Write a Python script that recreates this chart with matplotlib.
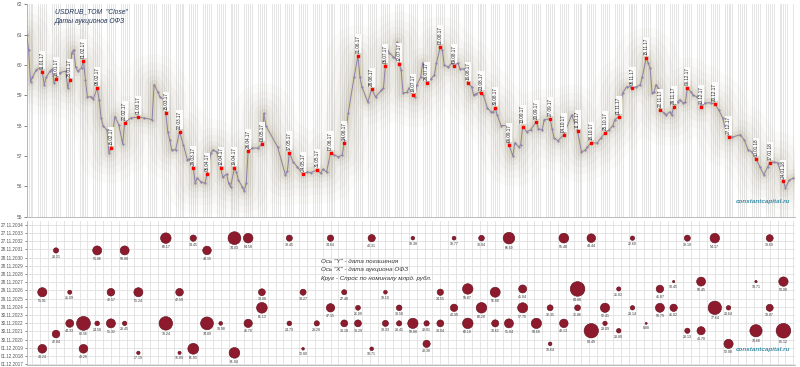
import pandas as pd
import matplotlib
matplotlib.use('Agg')
import matplotlib.pyplot as plt
from matplotlib.ticker import MultipleLocator, FixedLocator

base = pd.Timestamp('2017-01-01')

# USDRUB_TOM close (day offset from 01.01.2017, rub)
line_days = [2, 3, 4, 5, 7, 9, 10, 11, 12, 14, 15, 16, 17, 19, 22, 23, 24, 25, 26, 27, 28, 30,
             31, 32, 33, 35, 36, 38, 39, 40, 41, 43, 44, 45, 47, 49, 51, 52, 55, 59, 62, 66,
             67, 69, 70, 72, 73, 74, 75, 76, 78, 80, 82, 84, 85, 87, 88, 89, 91, 93, 94, 96,
             97, 99, 101, 102, 104, 105, 106, 108, 109, 110, 112, 113, 114, 115, 117, 120, 122,
             123, 124, 130, 134, 135, 136, 138, 140, 143, 145, 147, 150, 152, 153, 155, 157,
             159, 161, 163, 164, 166, 169, 171, 172, 173, 176, 178, 180, 183, 184, 185, 186,
             187, 189, 190, 191, 192, 193, 194, 196, 197, 199, 200, 201, 203, 204, 206, 208,
             210, 211, 213, 214, 215, 217, 219, 220, 222, 223, 225, 226, 227, 229, 230, 231,
             233, 234, 235, 237, 239, 240, 241, 242, 244, 247, 248, 250, 251, 253, 254, 255,
             257, 259, 262, 263, 265, 266, 269, 270, 271, 273, 276, 280, 283, 285, 287, 288,
             290, 293, 295, 297, 299, 301, 302, 304, 306, 308, 310, 311, 313, 315, 316, 318,
             319, 320, 321, 322, 323, 324, 325, 327, 328, 330, 331, 332, 334, 335, 337, 338,
             339, 341, 342, 344, 345, 346, 348, 351, 353, 355, 357, 358, 360, 362, 366, 368,
             370, 372, 374, 376, 378, 380, 381, 383, 385, 386, 388, 389, 391, 393]
line_vals = [61.0, 60.5, 59.45, 59.6, 59.85, 59.9, 59.77, 59.35, 59.6, 59.8, 59.87, 59.4, 59.55,
             59.75, 59.8, 59.24, 59.5, 60.4, 60.5, 59.94, 59.8, 59.9, 60.14, 59.5, 58.95, 58.95,
             58.88, 59.24, 58.85, 58.25, 58.0, 57.85, 57.1, 57.26, 58.3, 58.03, 57.4, 58.09,
             58.25, 58.28, 58.25, 58.2, 59.35, 59.1, 58.95, 58.85, 58.4, 57.8, 57.53, 57.2,
             57.2, 57.8, 57.36, 56.87, 56.9, 56.6, 56.1, 56.27, 56.14, 56.1, 56.4, 57.1, 57.2,
             57.13, 56.6, 56.3, 56.4, 56.1, 55.98, 56.6, 56.47, 56.2, 55.98, 55.85, 56.1, 57.16,
             57.26, 57.26, 57.4, 58.4, 58.0, 57.3, 56.37, 56.5, 57.1, 56.8, 56.64, 56.4, 56.47,
             56.45, 56.53, 56.43, 56.56, 56.47, 57.1, 57.03, 56.97, 57.03, 57.43, 58.4, 59.6,
             60.3, 59.6, 59.28, 58.78, 59.2, 58.95, 59.17, 59.25, 59.97, 60.5, 60.4, 60.27,
             60.23, 60.76, 60.03, 59.84, 59.08, 59.1, 59.24, 59.0, 58.95, 59.35, 59.6, 60.07,
             59.4, 59.53, 59.67, 60.07, 60.6, 60.5, 60.0, 59.93, 60.07, 59.97, 60.07, 59.87,
             59.87, 59.87, 59.4, 59.28, 59.0, 59.05, 59.1, 59.08, 59.0, 58.58, 58.45, 58.45,
             58.58, 58.35, 58.0, 58.0, 57.37, 57.0, 57.43, 57.3, 57.37, 57.97, 57.8, 57.86,
             58.13, 57.9, 57.86, 58.2, 58.22, 57.9, 57.6, 57.5, 57.7, 58.35, 57.82, 57.13, 57.2,
             57.3, 57.43, 57.43, 57.6, 57.76, 57.86, 58.0, 58.2, 58.29, 59.08, 59.28, 59.28,
             59.24, 59.28, 59.35, 59.6, 60.23, 60.07, 59.9, 59.08, 59.1, 59.35, 59.24, 58.5,
             58.43, 58.35, 58.45, 58.35, 58.62, 58.78, 58.85, 58.75, 58.78, 59.24, 59.1, 59.0,
             58.95, 59.05, 58.62, 58.75, 58.75, 58.72, 58.52, 58.25, 58.0, 57.62, 57.62, 57.7,
             57.53, 57.2, 57.13, 56.9, 56.64, 56.38, 56.64, 56.77, 56.8, 56.77, 56.6, 56.17,
             55.95, 56.2, 56.27]

# OFZ auction dates (day offset from 01.01.2017)
auction_days = [10, 17, 24, 31, 38, 45, 52, 59, 73, 80, 87, 94, 101, 108, 115, 122, 136, 143,
                150, 157, 164, 171, 178, 185, 192, 199, 206, 213, 220, 227, 234, 241, 248, 255,
                262, 269, 276, 283, 290, 297, 304, 311, 318, 325, 332, 339, 346, 353, 360, 374,
                381, 388]

# bubbles: auction day, maturity (year), demand bln rub
bub_day = [10, 10, 17, 17, 24, 24, 31, 31, 38, 38, 45, 45, 52, 52, 59, 59, 73, 73, 80, 80,
           87, 87, 94, 94, 101, 108, 108, 115, 115, 122, 122, 136, 136, 143, 143, 150, 157, 157,
           164, 164, 171, 171, 178, 178, 185, 185, 192, 192, 199, 199, 206, 206, 213, 213,
           220, 220, 227, 227, 234, 234, 241, 241, 248, 248, 255, 255, 262, 269, 269, 276, 276,
           283, 283, 290, 290, 297, 297, 304, 304, 311, 311, 318, 325, 325, 332, 332, 339, 339,
           346, 346, 353, 353, 360, 360, 374, 374, 381, 381, 388, 388]
bub_mat = [2026.7, 2019.8, 2031.8, 2021.6, 2026.7, 2022.9, 2022.9, 2019.8, 2031.8, 2022.9,
           2026.7, 2022.9, 2031.8, 2022.9, 2026.7, 2019.3, 2033.3, 2022.9, 2026.7, 2019.3,
           2033.3, 2019.8, 2031.8, 2022.9, 2022.9, 2033.3, 2019.3, 2033.3, 2022.9, 2026.7,
           2024.8, 2033.3, 2022.9, 2026.7, 2019.8, 2022.9, 2033.3, 2024.8, 2026.7, 2022.9,
           2024.8, 2022.9, 2033.3, 2019.8, 2026.7, 2022.9, 2024.8, 2022.9, 2033.3, 2022.9,
           2022.9, 2020.4, 2026.7, 2022.9, 2033.3, 2024.8, 2027.1, 2022.9, 2033.3, 2024.8,
           2026.7, 2022.9, 2033.3, 2022.9, 2027.1, 2024.8, 2022.9, 2024.8, 2020.4, 2033.3,
           2022.9, 2027.1, 2024.8, 2033.3, 2022.0, 2024.8, 2022.9, 2027.1, 2022.0, 2033.3,
           2024.8, 2022.9, 2027.1, 2024.8, 2028.0, 2024.8, 2033.3, 2022.0, 2028.0, 2022.0,
           2033.3, 2024.8, 2024.8, 2020.4, 2028.0, 2022.0, 2033.3, 2024.8, 2028.0, 2022.0]
bub_val = [51.91, 49.24, 28.21, 42.84, 21.09, 44.33, 80.56, 49.29, 51.06, 24.58, 42.57, 51.32,
           50.88, 23.45, 51.24, 17.19, 60.17, 78.24, 42.59, 15.89, 34.45, 61.93, 48.15, 74.09,
           18.98, 74.03, 61.04, 54.58, 46.70, 38.08, 61.13, 33.45, 24.73, 33.27, 12.80, 28.28,
           34.64, 47.15, 27.48, 38.18, 26.09, 38.29, 40.31, 18.71, 19.10, 33.33, 30.58, 28.41,
           18.38, 58.88, 28.81, 40.38, 34.55, 38.04, 19.77, 40.99, 59.87, 60.18, 30.84, 60.20,
           56.80, 39.62, 66.69, 51.04, 45.04, 57.70, 58.60, 32.35, 18.64, 55.48, 48.13, 84.88,
           31.86, 48.44, 83.49, 52.41, 23.09, 21.82, 23.80, 22.60, 23.14, 8.88, 41.87, 50.79,
           10.45, 41.02, 33.18, 28.13, 50.45, 45.78, 54.17, 77.64, 23.64, 52.08, 10.71, 70.60,
           38.69, 39.07, 53.08, 85.12]

mat_ticks = ['01.12.2017', '01.12.2018', '01.12.2019', '30.11.2020', '30.11.2021', '30.11.2022',
             '30.11.2023', '29.11.2024', '29.11.2025', '29.11.2026', '28.11.2027', '28.11.2028',
             '28.11.2029', '28.11.2030', '28.11.2031', '27.11.2032', '27.11.2033', '27.11.2034']

plt.rcParams['font.family'] = ['Liberation Sans', 'DejaVu Sans']

to_date = lambda d: [base + pd.Timedelta(days=v) for v in d]
lx = to_date(line_days)
val_by_day = dict(zip(line_days, line_vals))

fig = plt.figure(figsize=(8, 3.67), dpi=100)
ax = fig.add_axes([0.034, 0.41, 0.96, 0.578])
ax2 = fig.add_axes([0.034, 0.005, 0.96, 0.393])

xmin, xmax = base + pd.Timedelta(days=2.3), base + pd.Timedelta(days=394)

# ---- top: USDRUB line ----
for d in pd.bdate_range('2017-01-03', '2018-01-31'):
    ax.axvline(d, color='#e0e0e0', lw=0.6, zorder=0)
for lw, a in [(44, 0.03), (32, 0.04), (22, 0.05), (13, 0.07), (7, 0.11)]:
    ax.plot(lx, line_vals, color='#969078', lw=lw, alpha=a, solid_joinstyle='round',
            solid_capstyle='round', zorder=1)
ax.plot(lx, line_vals, color='#d6cb92', lw=2.8, alpha=0.4, solid_joinstyle='round', zorder=2)
ax.plot(lx, line_vals, color='#8c7fae', lw=0.7, marker='.', ms=1.2, zorder=3)

ad = to_date(auction_days)
av = [val_by_day[d] for d in auction_days]
ax.plot(ad, av, ls='none', marker='s', ms=2.1, color='#ff0000', mec='#ff0000', zorder=5)
for x, y in zip(ad, av):
    ax.annotate(x.strftime('%d.%m.%y'), (x, y), xytext=(0, 2.2), textcoords='offset points',
                rotation=90, ha='center', va='bottom', fontsize=3.3, color='#222222',
                bbox=dict(boxstyle='square,pad=0.12', fc='white', ec='none', alpha=0.9), zorder=6)

ax.set_xlim(xmin, xmax)
ax.set_ylim(55, 62)
ax.set_yticks(range(55, 63))
ax.set_xticks([])
ax.tick_params(axis='y', labelsize=3.5, colors='#555555', length=2, width=0.5, pad=1.5)
for s in ['top', 'right']:
    ax.spines[s].set_visible(False)
for s in ['left', 'bottom']:
    ax.spines[s].set_color('#b0b0b0')
    ax.spines[s].set_linewidth(0.6)
ax.text(0.036, 0.98, 'USDRUB_TOM  "Close"', transform=ax.transAxes, fontsize=4.9,
        style='italic', color='#1f3358', va='top')
ax.text(0.036, 0.935, 'Даты аукционов ОФЗ', transform=ax.transAxes, fontsize=4.9,
        style='italic', color='#1f3358', va='top')
ax.text(0.993, 0.065, 'constantcapital.ru', transform=ax.transAxes, fontsize=4.5,
        style='italic', weight='bold', color='#3a8ea8', ha='right')

# ---- bottom: auction bubbles ----
tick_y = [2017.92 + i for i in range(len(mat_ticks))]
ax2.set_xlim(xmin, xmax)
ax2.set_ylim(2017.8, 2035.4)
ax2.yaxis.set_major_locator(FixedLocator(tick_y))
ax2.set_yticklabels(mat_ticks)
ax2.xaxis.set_major_locator(MultipleLocator(4))
ax2.grid(True, color='#e0e0e0', lw=0.6)
ax2.set_axisbelow(True)
ax2.tick_params(axis='x', length=0, labelbottom=False)
ax2.tick_params(axis='y', labelsize=3.3, colors='#555555', length=1.5, width=0.5, pad=1.0)
for s in ['top', 'right']:
    ax2.spines[s].set_visible(False)
for s in ['left', 'bottom']:
    ax2.spines[s].set_color('#b0b0b0')
    ax2.spines[s].set_linewidth(0.6)

bx = to_date(bub_day)
diam = [(0.165 * v + 0.6) * 0.72 for v in bub_val]
ax2.scatter(bx, bub_mat, s=[d * d for d in diam], color='#8e1b2d', edgecolors='#5c0c18',
            linewidths=0.4, zorder=3)
for x, y, v, d in zip(bx, bub_mat, bub_val, diam):
    ax2.annotate(f'{v:.2f}', (x, y), xytext=(0, -(d / 2 + 1.3)), textcoords='offset points',
                 ha='center', va='top', fontsize=2.5, color='#333333', zorder=4)

for i, t in enumerate(['Ось "Y" - дата погашения', 'Ось "X" - дата аукциона ОФЗ',
                       'Круг - Спрос по номиналу млрд. рубл.']):
    ax2.text(0.383, 0.72 - i * 0.058, t, transform=ax2.transAxes, fontsize=4.5,
             style='italic', color='#333333', va='center')
ax2.text(0.993, 0.095, 'constantcapital.ru', transform=ax2.transAxes, fontsize=4.5,
         style='italic', weight='bold', color='#3a8ea8', ha='right')

fig.savefig('out.png', dpi=100)
